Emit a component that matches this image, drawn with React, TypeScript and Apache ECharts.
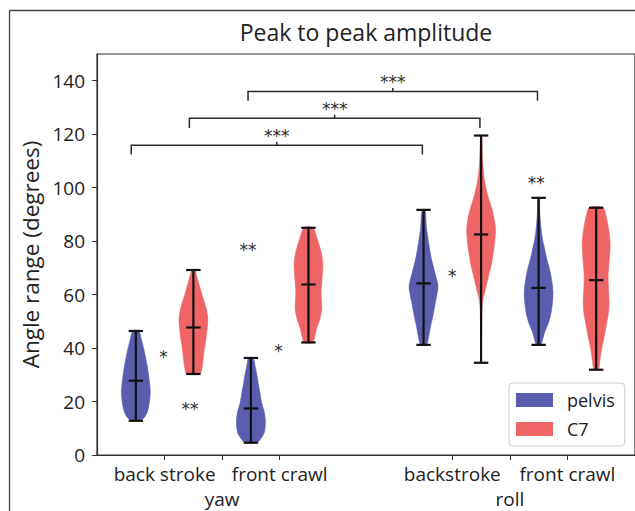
import React, { useEffect, useRef } from "react";
import * as echarts from "echarts";

// ---------- data ----------
const violinPositions = [1, 2, 3, 4, 6, 7, 8, 9];
const violinGroups = ["pelvis", "C7", "pelvis", "C7", "pelvis", "C7", "pelvis", "C7"];
const violinMins = [12.8, 30.3, 4.6, 42.1, 41.2, 34.5, 41.2, 31.9];
const violinMaxs = [46.4, 69.2, 36.3, 85.0, 91.7, 119.5, 96.2, 92.5];
const violinMedians = [27.8, 47.7, 17.4, 63.8, 64.2, 82.5, 62.5, 65.4];

// kernel density outline of each violin: angle levels and relative half-widths
const densityLevels = [
  [12.8, 14.5, 17, 21, 24, 28, 33, 38, 43, 46.4],
  [30.3, 32, 35, 39, 43, 48, 51, 55, 59.6, 64.6, 67.5, 69.2],
  [4.6, 6.2, 8, 10, 13, 16, 19.5, 23.6, 27, 29.8, 33, 36.3],
  [42.1, 44.5, 47.2, 51, 54.6, 58, 60.8, 65, 70.8, 74, 77, 81, 85],
  [41.2, 44, 48.4, 52, 55.9, 60, 63.3, 68, 73.3, 79.5, 85, 91.7],
  [34.5, 45, 52, 56, 58.4, 62, 67, 71, 75.7, 80, 84.5, 88, 91.9, 95, 98, 104, 110.5, 119.5],
  [41.2, 43.5, 45.9, 49, 52.2, 56.5, 60.8, 65, 69.6, 73, 77, 81, 85.7, 91, 96.2],
  [31.9, 35, 39.7, 44, 48.4, 53, 57.1, 62, 67, 72, 78.2, 82, 85.7, 89, 92.5],
];
const densityWidths = [
  [0.3, 0.65, 0.85, 0.97, 1.0, 0.93, 0.8, 0.62, 0.4, 0.2],
  [0.45, 0.58, 0.66, 0.75, 0.86, 0.97, 1.0, 0.88, 0.62, 0.35, 0.2, 0.12],
  [0.4, 0.7, 0.9, 0.98, 1.0, 0.93, 0.75, 0.62, 0.5, 0.42, 0.3, 0.15],
  [0.28, 0.45, 0.56, 0.8, 0.92, 0.9, 0.88, 0.93, 1.0, 0.95, 0.83, 0.6, 0.3],
  [0.2, 0.35, 0.5, 0.65, 0.78, 0.93, 1.0, 0.8, 0.55, 0.35, 0.2, 0.1],
  [0.02, 0.03, 0.05, 0.08, 0.14, 0.3, 0.52, 0.7, 0.85, 0.95, 1.0, 0.92, 0.76, 0.58, 0.42, 0.2, 0.1, 0.04],
  [0.15, 0.3, 0.42, 0.65, 0.83, 0.95, 1.0, 0.92, 0.76, 0.58, 0.42, 0.26, 0.15, 0.08, 0.05],
  [0.14, 0.25, 0.38, 0.55, 0.7, 0.85, 0.9, 0.86, 0.83, 0.9, 0.97, 0.93, 0.83, 0.7, 0.48],
];

// significance brackets
const bracketStarts = [0.92, 1.93, 2.95];
const bracketEnds = [5.98, 6.98, 7.98];
const bracketLevels = [115.9, 126.0, 136.0];
const bracketDrops = [112.4, 122.3, 132.5];
const bracketLabels = ["***", "***", "***"];

// single significance marks
const starX = [1.48, 1.94, 2.95, 3.48, 6.5, 7.96];
const starY = [38.5, 18.9, 78.5, 40.6, 68.7, 103.3];
const starText = ["*", "**", "**", "*", "*", "**"];

// axes
const xTickValues = [1.5, 2.5, 3.5, 6.5, 7.5, 8.5];
const strokeLabelValues = [1.5, 3.5, 6.5, 8.5];
const strokeLabels = ["back stroke", "front crawl", "backstroke", "front crawl"];
const axisGroupValues = [2.5, 7.5];
const axisGroupLabels = ["yaw", "roll"];
const yTickValues = [0, 20, 40, 60, 80, 100, 120, 140];

const seriesNames = ["pelvis", "C7"];
const BLUE = "#5a5dad";
const RED = "#ef6464";
const seriesColors = [BLUE, RED];
const FONT = "Open Sans";
const MARK = "#2b2b2b";

const HALF = 0.25; // max half width of a violin in x units
const CAP = 0.125;

const lookup = (vals: number[], labels: string[]) => (v: number) => {
  const k = vals.findIndex((t) => Math.abs(t - v) < 1e-6);
  return k >= 0 ? labels[k] : "";
};

export default function App() {
  const ref = useRef<HTMLDivElement>(null);
  useEffect(() => {
    if (!ref.current) return;
    const chart = echarts.init(ref.current, null, { renderer: "svg" });

    const violinRender = (params: any, api: any) => {
      const idx = api.value(4);
      const pos = api.value(0);
      const lv = densityLevels[idx];
      const wd = densityWidths[idx];
      const pts: number[][] = [];
      for (let i = 0; i < lv.length; i++) pts.push(api.coord([pos + HALF * wd[i], lv[i]]));
      for (let i = lv.length - 1; i >= 0; i--) pts.push(api.coord([pos - HALF * wd[i], lv[i]]));
      const top = api.coord([pos, violinMaxs[idx]]);
      const bot = api.coord([pos, violinMins[idx]]);
      const med = api.coord([pos, violinMedians[idx]]);
      const capL = api.coord([pos - CAP, 0])[0];
      const capR = api.coord([pos + CAP, 0])[0];
      const ls = { stroke: "#111", lineWidth: 2.2 };
      return {
        type: "group",
        children: [
          {
            type: "polygon",
            shape: { points: pts, smooth: 0.3 },
            style: { fill: api.visual("color"), stroke: api.visual("color"), lineWidth: 0.6, opacity: 1 },
          },
          { type: "line", shape: { x1: top[0], y1: top[1], x2: bot[0], y2: bot[1] }, style: ls },
          { type: "line", shape: { x1: capL, y1: top[1], x2: capR, y2: top[1] }, style: ls },
          { type: "line", shape: { x1: capL, y1: bot[1], x2: capR, y2: bot[1] }, style: ls },
          { type: "line", shape: { x1: capL, y1: med[1], x2: capR, y2: med[1] }, style: ls },
        ],
      };
    };

    const violinSeries = seriesNames.map((name, s) => ({
      type: "custom",
      name,
      itemStyle: { color: seriesColors[s] },
      renderItem: violinRender,
      encode: { x: 0, y: [1, 2] },
      data: violinPositions
        .map((p, i) => [p, violinMins[i], violinMaxs[i], violinMedians[i], i, violinGroups[i]])
        .filter((d) => d[5] === name)
        .map((d) => d.slice(0, 5)),
      z: 2,
    }));

    const bracketSeries = {
      type: "custom",
      name: "brackets",
      itemStyle: { color: MARK },
      renderItem: (params: any, api: any) => {
        const a = api.value(0);
        const b = api.value(1);
        const h = api.value(2);
        const d = api.value(3);
        const i = api.value(4);
        const p1 = api.coord([a, d]);
        const p2 = api.coord([a, h]);
        const p3 = api.coord([b, h]);
        const p4 = api.coord([b, d]);
        const mid = (a + b) / 2;
        const m1 = api.coord([mid, h]);
        const m2 = api.coord([mid, h + 1.3]);
        const t = api.coord([mid, h + 1.5]);
        return {
          type: "group",
          children: [
            {
              type: "polyline",
              shape: { points: [p1, p2, p3, p4] },
              style: { stroke: MARK, lineWidth: 1.5, fill: null },
            },
            { type: "line", shape: { x1: m1[0], y1: m1[1], x2: m2[0], y2: m2[1] }, style: { stroke: MARK, lineWidth: 1.5 } },
            {
              type: "text",
              x: t[0],
              y: t[1] + 3,
              style: {
                text: bracketLabels[i],
                textAlign: "center",
                textVerticalAlign: "bottom",
                fontFamily: "DejaVu Sans",
                fontSize: 17,
                fill: MARK,
              },
            },
          ],
        };
      },
      encode: { x: [0, 1], y: 2 },
      data: bracketStarts.map((s, i) => [s, bracketEnds[i], bracketLevels[i], bracketDrops[i], i]),
      z: 3,
    };

    const starSeries = {
      type: "custom",
      name: "marks",
      itemStyle: { color: MARK },
      renderItem: (params: any, api: any) => {
        const i = api.value(2);
        const c = api.coord([api.value(0), api.value(1)]);
        return {
          type: "text",
          x: c[0],
          y: c[1] + 4.5,
          style: {
            text: starText[i],
            textAlign: "center",
            textVerticalAlign: "middle",
            fontFamily: "DejaVu Sans",
            fontSize: 17,
            fill: MARK,
          },
        };
      },
      encode: { x: 0, y: 1 },
      data: starX.map((x, i) => [x, starY[i], i]),
      z: 3,
    };

    const labelStyle = {
      interval: 0,
      hideOverlap: false,
      showMinLabel: true,
      showMaxLabel: true,
      margin: 6,
      fontSize: 19,
      lineHeight: 25,
      color: "#222",
      fontFamily: FONT,
    };

    chart.setOption({
      animation: false,
      backgroundColor: "#fff",
      textStyle: { fontFamily: FONT },
      grid: {
        left: 97,
        top: 54,
        right: -2,
        bottom: 56,
        show: true,
        borderColor: "#333",
        borderWidth: 1.2,
        backgroundColor: "transparent",
      },
      xAxis: [
        {
          type: "value",
          min: 0.325,
          max: 9.675,
          position: "bottom",
          splitLine: { show: false },
          axisLine: { show: true, lineStyle: { color: "#333", width: 1.2 } },
          axisTick: { show: true, length: 5, customValues: xTickValues, lineStyle: { color: "#333" } },
          axisLabel: { ...labelStyle, customValues: strokeLabelValues, formatter: lookup(strokeLabelValues, strokeLabels) },
        },
        {
          type: "value",
          min: 0.325,
          max: 9.675,
          position: "bottom",
          offset: 25,
          splitLine: { show: false },
          axisLine: { show: false },
          axisTick: { show: false },
          axisLabel: { ...labelStyle, customValues: axisGroupValues, formatter: lookup(axisGroupValues, axisGroupLabels) },
        },
      ],
      yAxis: {
        type: "value",
        min: 0,
        max: 150,
        name: "Angle range (degrees)",
        nameLocation: "middle",
        nameGap: 53,
        nameTextStyle: { fontSize: 22.5, color: "#222", fontFamily: FONT },
        splitLine: { show: false },
        axisLine: { show: true, lineStyle: { color: "#333", width: 1.2 } },
        axisTick: { show: true, length: 5, customValues: yTickValues, lineStyle: { color: "#333" } },
        axisLabel: {
          customValues: yTickValues,
          margin: 12,
          fontSize: 19,
          color: "#222",
          fontFamily: FONT,
        },
      },
      legend: {
        data: seriesNames.map((n, s) => ({ name: n, icon: "rect", itemStyle: { color: seriesColors[s] } })),
        orient: "vertical",
        left: 509,
        top: 383,
        itemWidth: 37,
        itemHeight: 14,
        itemGap: 9,
        padding: [7, 10, 7, 7],
        borderColor: "#ccc",
        borderWidth: 1,
        borderRadius: 4,
        backgroundColor: "rgba(255,255,255,0.85)",
        textStyle: { fontSize: 18, color: "#222", fontFamily: FONT, padding: [0, 0, 0, 9], lineHeight: 20 },
        selectedMode: false,
        z: 10,
      },
      graphic: [
        {
          type: "text",
          x: 366,
          y: 32,
          style: {
            text: "Peak to peak amplitude",
            textAlign: "center",
            textVerticalAlign: "middle",
            fontSize: 23,
            fontFamily: FONT,
            fill: "#222",
          },
        },
        { type: "line", shape: { x1: 9.5, y1: 10.5, x2: 640, y2: 10.5 }, style: { stroke: "#444", lineWidth: 1.3 } },
        { type: "line", shape: { x1: 9.5, y1: 10.5, x2: 9.5, y2: 520 }, style: { stroke: "#444", lineWidth: 1.3 } },
      ],
      series: [...violinSeries, bracketSeries, starSeries],
    });
    return () => chart.dispose();
  }, []);
  return <div ref={ref} style={{ position: "fixed", left: 0, top: 0, width: 635, height: 511 }} />;
}
